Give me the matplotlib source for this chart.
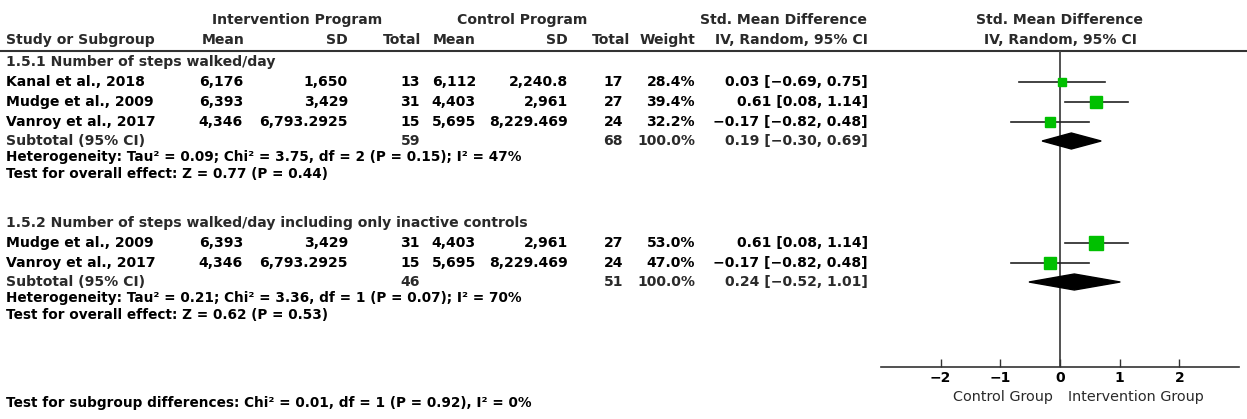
import matplotlib
matplotlib.use("Agg")
import matplotlib.pyplot as plt
from matplotlib.patches import Polygon

# ---------------- data ----------------
group_titles = ["1.5.1 Number of steps walked/day",
                "1.5.2 Number of steps walked/day including only inactive controls"]

g1_studies = ["Kanal et al., 2018", "Mudge et al., 2009", "Vanroy et al., 2017"]
g1_int_mean = ["6,176", "6,393", "4,346"]
g1_int_sd = ["1,650", "3,429", "6,793.2925"]
g1_int_n = [13, 31, 15]
g1_ctl_mean = ["6,112", "4,403", "5,695"]
g1_ctl_sd = ["2,240.8", "2,961", "8,229.469"]
g1_ctl_n = [17, 27, 24]
g1_weight = [28.4, 39.4, 32.2]
g1_smd = [0.03, 0.61, -0.17]
g1_lo = [-0.69, 0.08, -0.82]
g1_hi = [0.75, 1.14, 0.48]
g1_sub = dict(n_int=59, n_ctl=68, smd=0.19, lo=-0.30, hi=0.69)
g1_het = "Heterogeneity: Tau² = 0.09; Chi² = 3.75, df = 2 (P = 0.15); I² = 47%"
g1_test = "Test for overall effect: Z = 0.77 (P = 0.44)"

g2_studies = ["Mudge et al., 2009", "Vanroy et al., 2017"]
g2_int_mean = ["6,393", "4,346"]
g2_int_sd = ["3,429", "6,793.2925"]
g2_int_n = [31, 15]
g2_ctl_mean = ["4,403", "5,695"]
g2_ctl_sd = ["2,961", "8,229.469"]
g2_ctl_n = [27, 24]
g2_weight = [53.0, 47.0]
g2_smd = [0.61, -0.17]
g2_lo = [0.08, -0.82]
g2_hi = [1.14, 0.48]
g2_sub = dict(n_int=46, n_ctl=51, smd=0.24, lo=-0.52, hi=1.01)
g2_het = "Heterogeneity: Tau² = 0.21; Chi² = 3.36, df = 1 (P = 0.07); I² = 70%"
g2_test = "Test for overall effect: Z = 0.62 (P = 0.53)"

subgroup_test = "Test for subgroup differences: Chi² = 0.01, df = 1 (P = 0.92), I² = 0%"
xticks = [-2, -1, 0, 1, 2]
left_label = "Control Group"
right_label = "Intervention Group"

# ---------------- layout ----------------
W, H = 1247, 419
fig = plt.figure(figsize=(W / 100, H / 100), dpi=100)
bg = fig.add_axes([0, 0, 1, 1])
bg.set_xlim(0, W)
bg.set_ylim(H, 0)
bg.axis("off")

FONT = "DejaVu Sans"
fs_hdr = 10.1
fs_row = 10.1
fs_stat = 9.8
hdr_col = "#2a2a2a"
txt_col = "#000000"

def t(x, y, s, ha="left", weight="bold", size=fs_row, color=txt_col):
    bg.text(x, y, s, ha=ha, va="center", fontsize=size, fontweight=weight,
            color=color, family=FONT)

# column anchors (pixel)
X_STUDY = 6
X_IMEAN = 243
X_ISD = 348
X_IN = 420
X_CMEAN = 476
X_CSD = 568
X_CN = 623
X_W = 695
X_CI = 868

H_KW = dict(size=fs_hdr, color=hdr_col)
# headers
t(297, 20, "Intervention Program", ha="center", **H_KW)
t(522, 20, "Control Program", ha="center", **H_KW)
t(783, 20, "Std. Mean Difference", ha="center", **H_KW)
t(1059, 20, "Std. Mean Difference", ha="center", **H_KW)
t(X_STUDY, 40, "Study or Subgroup", **H_KW)
t(X_IMEAN + 2, 40, "Mean", ha="right", **H_KW)
t(X_ISD, 40, "SD", ha="right", **H_KW)
t(X_IN + 1, 40, "Total", ha="right", **H_KW)
t(X_CMEAN, 40, "Mean", ha="right", **H_KW)
t(X_CSD, 40, "SD", ha="right", **H_KW)
t(X_CN + 7, 40, "Total", ha="right", **H_KW)
t(X_W, 40, "Weight", ha="right", **H_KW)
t(X_CI, 40, "IV, Random, 95% CI", ha="right", **H_KW)
t(1060, 40, "IV, Random, 95% CI", ha="center", **H_KW)
bg.plot([0, W], [51, 51], color="#333333", lw=1.5)

def ci_str(m, lo, hi):
    f = lambda v: f"{v:.2f}".replace("-", "\u2212")
    return f"{f(m)} [{f(lo)}, {f(hi)}]"

# forest axes
AX_L, AX_R, AX_TOP, AX_BOT = 881, 1239, 51, 367
fa = fig.add_axes([AX_L / W, (H - AX_BOT) / H, (AX_R - AX_L) / W, (AX_BOT - AX_TOP) / H])
fa.set_xlim(-3, 3)
fa.set_ylim(AX_BOT, AX_TOP)
fa.patch.set_alpha(0)
for s in ["top", "left", "right"]:
    fa.spines[s].set_visible(False)
fa.spines["bottom"].set_color("#333333")
fa.spines["bottom"].set_linewidth(1.2)
fa.set_yticks([])
fa.set_xticks(xticks)
fa.set_xticklabels([str(v).replace("-", "\u2212") for v in xticks],
                   fontweight="bold", fontsize=10, family=FONT)
fa.tick_params(axis="x", direction="in", length=6, width=1.0, color="#333333", pad=3)
fa.axvline(0, color="#444444", lw=1.3, zorder=1)

def draw_group(y0, title, studies, im, isd, iN, cm, csd, cN, w, smd, lo, hi, sub, het, test, wscale):
    t(X_STUDY, y0, title, **H_KW)
    y = y0
    for i in range(len(studies)):
        y = y0 + 20 * (i + 1)
        t(X_STUDY, y, studies[i])
        t(X_IMEAN, y, im[i], ha="right")
        t(X_ISD, y, isd[i], ha="right")
        t(X_IN, y, str(iN[i]), ha="right")
        t(X_CMEAN, y, cm[i], ha="right")
        t(X_CSD, y, csd[i], ha="right")
        t(X_CN, y, str(cN[i]), ha="right")
        t(X_W, y, f"{w[i]:.1f}%", ha="right")
        t(X_CI, y, ci_str(smd[i], lo[i], hi[i]), ha="right")
        fa.plot([lo[i], hi[i]], [y, y], color="#222222", lw=1.2, zorder=2)
        fa.plot([smd[i]], [y], marker="s", color="#00c000", ms=w[i] * wscale,
                mec="#00c000", zorder=3, ls="none")
    ys = y + 19
    t(X_STUDY, ys, "Subtotal (95% CI)", **H_KW)
    t(X_IN, ys, str(sub["n_int"]), ha="right", **H_KW)
    t(X_CN, ys, str(sub["n_ctl"]), ha="right", **H_KW)
    t(X_W, ys, "100.0%", ha="right", **H_KW)
    t(X_CI, ys, ci_str(sub["smd"], sub["lo"], sub["hi"]), ha="right", **H_KW)
    fa.add_patch(Polygon([[sub["lo"], ys], [sub["smd"], ys - 8], [sub["hi"], ys],
                          [sub["smd"], ys + 8]], closed=True, color="black", zorder=4))
    t(X_STUDY, ys + 16, het, size=fs_stat)
    t(X_STUDY, ys + 33, test, size=fs_stat)

draw_group(62, group_titles[0], g1_studies, g1_int_mean, g1_int_sd, g1_int_n,
           g1_ctl_mean, g1_ctl_sd, g1_ctl_n, g1_weight, g1_smd, g1_lo, g1_hi,
           g1_sub, g1_het, g1_test, 0.21)
draw_group(223, group_titles[1], g2_studies, g2_int_mean, g2_int_sd, g2_int_n,
           g2_ctl_mean, g2_ctl_sd, g2_ctl_n, g2_weight, g2_smd, g2_lo, g2_hi,
           g2_sub, g2_het, g2_test, 0.19)

t(X_STUDY, 403, subgroup_test, size=fs_stat)
t(1053, 397, left_label, ha="right", weight="normal", size=10.4, color=hdr_col)
t(1068, 397, right_label, ha="left", weight="normal", size=10.4, color=hdr_col)

fig.savefig("out.png", dpi=100)
